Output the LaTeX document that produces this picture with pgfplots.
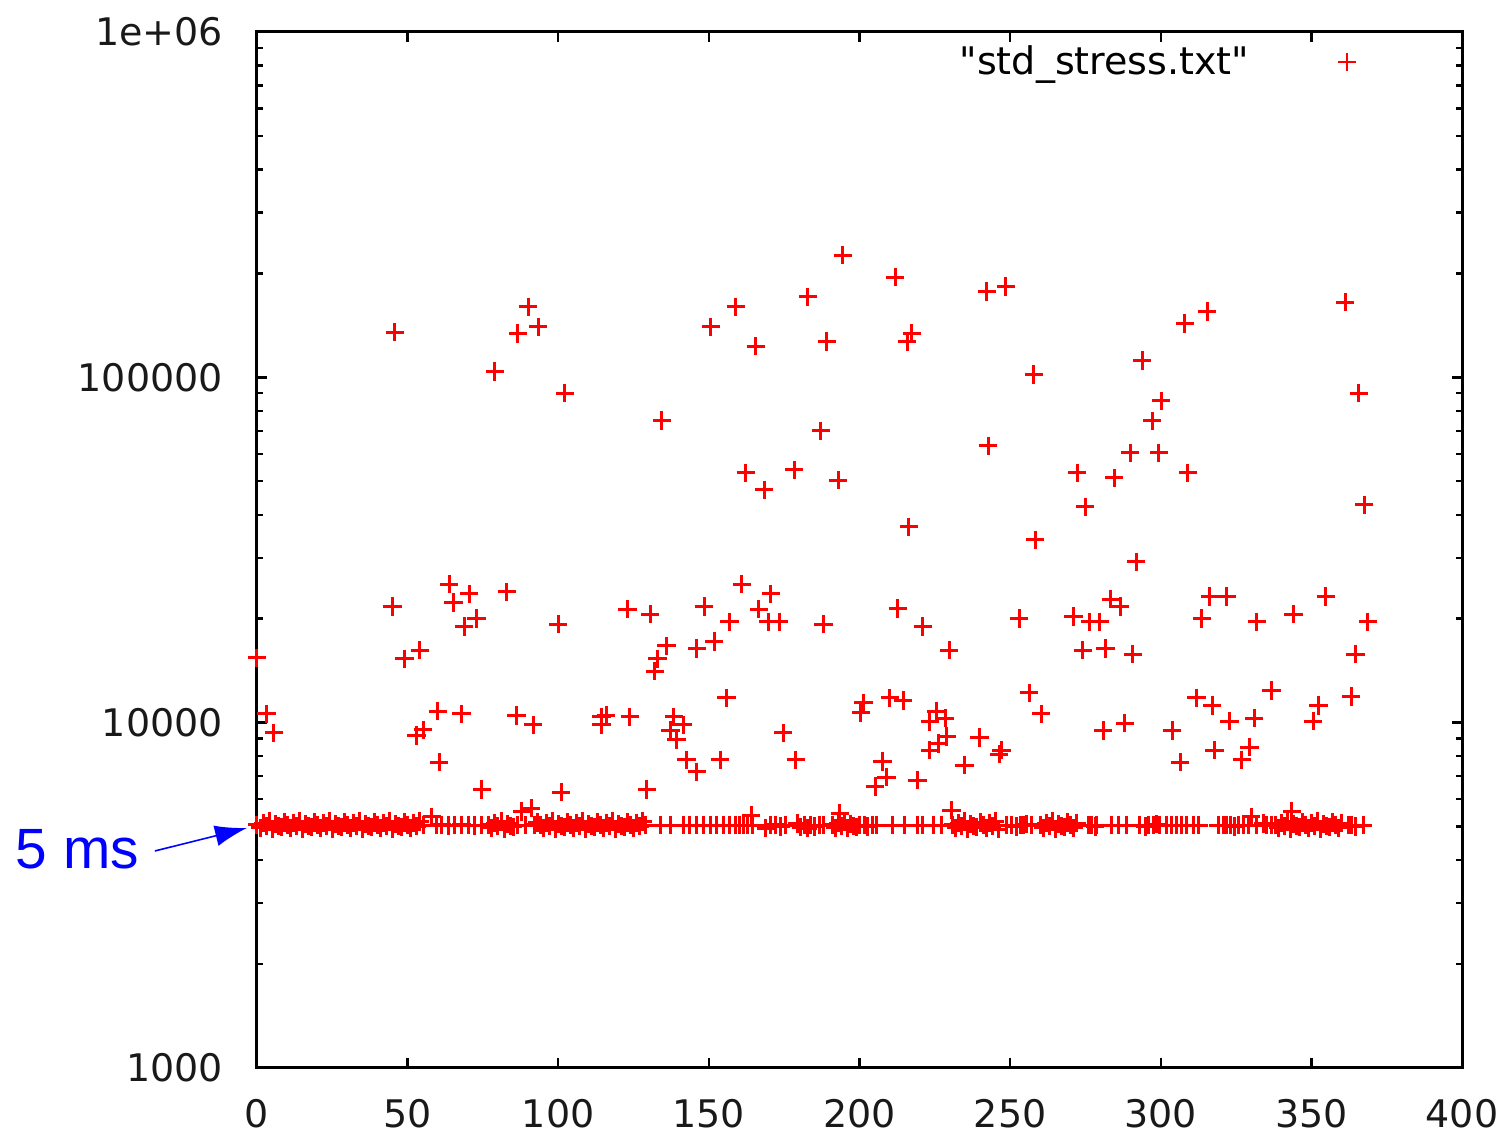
\documentclass[border=0pt]{standalone}
\usepackage{fontspec}
\setmainfont{DejaVu Sans}
\newfontfamily\plainfont{DejaVu Sans}
\newfontfamily\arialfont{Liberation Sans}
\usepackage{pgfplots}
\pgfplotsset{compat=1.18}
\usetikzlibrary{arrows.meta}
\begin{document}
\begin{tikzpicture}
\begin{axis}[
  name=ax,
  scale only axis,
  width=301.25pt, height=259pt,
  ymode=log,
  xmin=0, xmax=400, ymin=1000, ymax=1000000,
  xtick={0,50,100,150,200,250,300,350,400},
  xticklabels={0,50,100,150,200,250,300,350,400},
  ytick={1000,10000,100000,1000000},
  yticklabels={1000,10000,100000,1e+06},
  minor ytick={2000,3000,4000,5000,6000,7000,8000,9000,20000,30000,40000,50000,60000,70000,80000,90000,200000,300000,400000,500000,600000,700000,800000,900000},
  minor xtick={},
  tick align=inside,
  major tick length=2.5pt,
  minor tick length=1.5pt,
  tick style={black, line width=0.6pt},
  axis line style={black, line width=0.75pt},
  ticklabel style={font=\plainfont\fontsize{9.5}{11}\selectfont, text=black!90},
  xticklabel style={yshift=-4.3pt},
  yticklabel style={xshift=-5pt},
  clip=false,
  legend plot pos=right,
  legend style={draw=none, fill=none, at={(rel axis cs:0.5825,0.988)}, anchor=north west,
    inner sep=0pt, font=\plainfont\fontsize{9.5}{11}\selectfont,
    nodes={inner sep=0pt}, column sep=0pt},
  legend image code/.code={\path (0pt,0pt); \draw[#1, line width=0.5pt] plot coordinates {(24pt,0.2pt)};},
]
\addplot[only marks, mark=+, mark size=2.3pt, red, line width=0.75pt] coordinates {
(0,5060)(1,4960)(2,5120)(3,5010)(4,5170)(5,4920)(6,5090)(7,5030)(8,4990)(9,5140)
(10,5060)(11,4960)(12,5120)(13,5010)(14,5170)(15,4920)(16,5090)(17,5030)(18,4990)(19,5140)
(20,5060)(21,4960)(22,5120)(23,5010)(24,5170)(25,4920)(26,5090)(27,5030)(28,4990)(29,5140)
(30,5060)(31,4960)(32,5120)(33,5010)(34,5170)(35,4920)(36,5090)(37,5030)(38,4990)(39,5140)
(40,5060)(41,4960)(42,5120)(43,5010)(44,5170)(45,4920)(46,5090)(47,5030)(48,4990)(49,5140)
(50,5060)(51,4960)(52,5120)(53,5010)(54,5170)
(55.2,5050)(58,5340)(59.6,5050)(61.3,5060)(63.5,5040)(65.7,5050)(67.9,5060)(70.1,5050)(72.3,5040)(74.6,5050)
(77,5060)(78,4960)(79,5120)(80,5010)(81,5170)(82,4920)(83,5090)(84,5030)(85,4990)
(86.5,5050)(89,5050)(92,5060)
(93,5140)(94,5060)(95,4960)(96,5120)(97,5010)(98,5170)(99,4920)(100,5090)(101,5030)(102,4990)(103,5140)(104,5060)(105,4960)(106,5120)(107,5010)(108,5170)(109,4920)(110,5090)(111,5030)(112,4990)(113,5140)(114,5060)(115,4960)(116,5120)(117,5010)(118,5170)(119,4920)(120,5090)(121,5030)(122,4990)(123,5140)(124,5060)(125,4960)(126,5120)(127,5010)(128,5170)(129,5050)
(133.8,5050)(137.1,5050)(141.5,5050)(143.7,5050)(146,5050)(148.2,5050)(150.4,5050)(152.6,5050)(154.8,5050)(157,5050)(158.7,5050)(160.3,5050)
(161.6,5050)(162.7,5050)(164.5,5050)
(168.9,4950)(170.5,5050)(172.2,5060)(173.9,5000)(175.5,5050)(179.4,5100)(180.5,4980)(181.6,5050)(182.7,4950)(183.8,5050)(184.9,5000)(186.6,5050)(188.2,5050)
(191,5060)(192,4960)(193,5120)(194,5010)(195,5170)(196,4950)(197,5090)(198,5030)(199,4990)
(200,5050)(201.6,5050)(202.7,5000)(204.4,5050)(205.5,5050)
(211.1,5050)(215,5050)(219.4,5050)(221,5050)(224.4,5050)(227.1,5050)
(231,5060)(232,4960)(233,5120)(234,5010)(235,5170)(236,4920)(237,5090)(238,5030)(239,4990)(240,5140)(241,5060)(242,4960)(243,5120)(244,5010)(245,5170)(246,4920)
(248.8,5050)(250.5,5050)(252.2,5000)(253.3,5050)(254.4,5050)(255.5,5080)(257.1,5050)
(260,5060)(261,4960)(262,5120)(263,5010)(264,5170)(265,4920)(266,5090)(267,5030)(268,4990)(269,5140)(270,5060)(271,4960)(272,5120)
(276,5050)(277.1,5050)(278.2,5000)(278.7,5050)
(283.7,5050)(285.9,5050)(288.7,5050)(293.1,5050)(294.8,5000)(295.9,5050)(297.5,5050)(298.6,5080)(299.7,5050)(302,5050)(303.6,5050)(305.3,5050)(306.9,5050)(308.6,5050)(310.8,5050)(312.5,5050)
(319.1,5050)(320.8,5050)(321.9,5050)(323,5050)(324.6,5000)(325.7,5050)(327.4,5050)
(329.1,5050)(331.8,5050)(334,5100)(335.1,5050)(336.8,5050)
(338,5060)(339,4960)(340,5120)(341,5010)(342,5170)(343,4920)(344,5090)(345,5030)(346,4990)(347,5140)(348,5060)(349,4960)(350,5120)(351,5010)(352,5170)(353,4920)(354,5090)(355,5030)(356,4990)(357,5140)(358,5060)(359,4960)(360,5120)
(362.3,5050)(363.4,5050)(364.5,5000)(367.2,5050)
};
\addlegendentry{"std\_stress.txt"}
\addplot[only marks, mark=+, mark size=2.3pt, red, line width=0.75pt, forget plot] coordinates {
(45.8,135000)(90,160000)(86.6,134000)(93.3,140000)(79,104000)(102.2,90000)(134.4,75000)(150.7,140000)(159,160000)(165.6,123000)(182.9,171000)(189.2,127000)(194.5,226000)(211.8,195000)(215.8,127000)(217.4,134000)(242.3,177000)(248.6,183000)(257.9,102000)(293.8,112000)(308,143000)(315.4,155000)(361.2,165000)(365.8,90000)
(162.3,52900)(168.3,47200)(178.3,54000)(187.2,70000)(192.9,50400)(216.4,36900)(242.7,63300)(272.2,52900)(274.9,42200)(284.5,51100)(289.8,60400)(297.1,74800)(300.1,85500)(299.4,60400)(309,52900)(291.8,29200)(258.3,33800)(367.5,42700)
(0,15400)(3.2,10600)(5.6,9350)(45,21700)(48.9,15300)(54.1,16200)(53,9170)(55.2,9530)(60,10800)(60.5,7680)(63.8,25200)(65.2,22300)(70.4,23600)(68.8,19000)(72.9,20000)(67.9,10600)(74.6,6410)(82.9,23900)(86.2,10500)(91.7,9850)(87.9,5530)(91,5650)(100,19300)(101,6290)(123,21300)(130.5,20600)(114.4,10400)(114.4,9850)(115.9,10500)(123.8,10400)(129.4,6410)(136,16700)(132.9,15300)(132.1,14100)(146,16400)(148.4,21700)(138.4,10400)(141.5,9850)(137.3,9500)(139.3,8910)(142.6,7800)(146,7210)
(151.8,17200)(156.8,19600)(160.9,25200)(166.6,21300)(170.6,23600)(169.7,19600)(173.3,19600)(188,19300)(155.9,11800)(174.7,9350)(178.9,7800)(153.7,7800)(212.7,21400)(221,19000)(229.8,16200)(253,20000)(271,20300)(274.1,16200)(201.3,11400)(200.4,10700)(210.1,11800)(214.5,11600)(225.6,10800)(223.4,10070)(228.4,10300)(229,9110)(226.2,8710)(223.4,8330)(239.8,9050)(234.8,7540)(247.2,8330)(246.4,8100)(207.7,7710)(209,6950)(205.2,6530)(219.3,6820)(256.3,12200)(260.3,10600)(164,5400)(193.5,5450)(230.6,5580)
(276.5,19600)(279.8,19600)(283.4,22800)(286.5,21700)(281.7,16400)(290.7,15800)(316.3,23200)(321.9,23200)(313.6,20000)(331.9,19600)(344,20600)(354.8,23200)(368.7,19600)(364.7,15800)(280.9,9480)(288.1,9960)(303.8,9480)(306.4,7680)(311.9,11800)(317.1,11200)(322.8,10100)(331,10300)(336.8,12400)(317.8,8330)(329.4,8490)(326.9,7800)(350.6,10100)(352.3,11200)(363.2,11900)(343.5,5530)(330,5340)
};
\node[anchor=west, inner sep=0pt, text=blue, font=\arialfont\fontsize{14.2}{16}\selectfont] at (axis cs:-80.3,4288) {5 ms};
\draw[blue, line width=0.4pt, -{Latex[length=8pt,width=5.25pt]}] (axis cs:-33.9,4250) -- (axis cs:-3.3,4955);
\coordinate (ax-sw) at (rel axis cs:0,0);
\coordinate (ax-ne) at (rel axis cs:1,1);
\end{axis}
\pgfresetboundingbox
\path ([shift={(-64.25pt,-15.75pt)}]ax-sw) rectangle ([shift={(11.25pt,8pt)}]ax-ne);
\end{tikzpicture}
\end{document}
